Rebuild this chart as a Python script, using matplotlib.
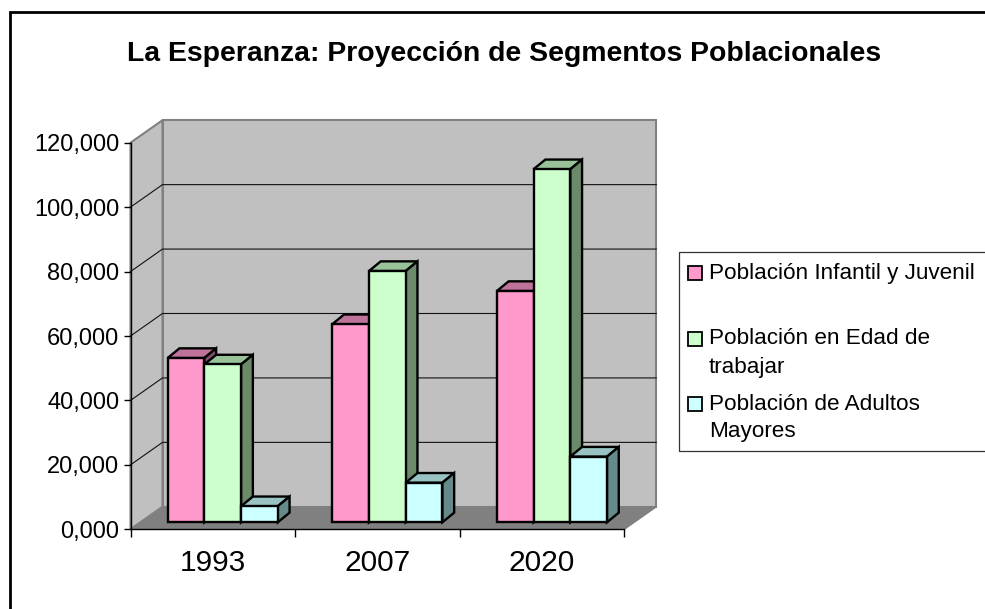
import matplotlib.pyplot as plt
from matplotlib.patches import Rectangle, Polygon

plt.rcParams['font.family'] = ['Liberation Sans', 'DejaVu Sans']

# values
years = ['1993', '2007', '2020']
infantil = [51000, 61500, 71800]
trabajar = [49000, 78000, 109600]
adultos = [5000, 12300, 20400]
series_names = [
    ['Población Infantil y Juvenil'],
    ['Población en Edad de', 'trabajar'],
    ['Población de Adultos', 'Mayores'],
]
y_ticks = [0, 20000, 40000, 60000, 80000, 100000, 120000]
y_labels = ['0,000', '20,000', '40,000', '60,000', '80,000', '100,000', '120,000']

front = ['#FF99CC', '#CCFFCC', '#CCFFFF']
top = ['#C0739A', '#99C299', '#99C2C2']
side = ['#805066', '#6A8A6A', '#668A8A']

# depth of the fake 3D box, in data units (32 px right, 22.5 px up)
DEPTH_X = 32 / 164.6
DEPTH_Y = 22.5 * 120000 / 386.5
BAR_W = 0.223
BAR_D0 = 0.31
BAR_D1 = 0.74
# bars slant a bit steeper than the box, pull their back edge in
BAR_BACK = 0.012


def proj(x, v, d):
    return x + d * DEPTH_X, v + d * DEPTH_Y


def face(ax, pts, color, ec='none', lw=0, z=1):
    ax.add_patch(Polygon([proj(*p) for p in pts], closed=True, fc=color, ec=ec,
                         lw=lw, zorder=z, clip_on=False, joinstyle='miter'))


fig = plt.figure(figsize=(9.85, 6.09), dpi=100)
ax = fig.add_axes([130.5 / 985, 1 - 529.3 / 609, 493.8 / 985, 386.6 / 609])
ax.set_xlim(0, 3)
ax.set_ylim(0, 120000)
ax.patch.set_visible(False)

# walls and floor
face(ax, [(0, 0, 1), (3, 0, 1), (3, 120000, 1), (0, 120000, 1)], '#C0C0C0', '#808080', 1.5)
face(ax, [(0, 0, 0), (0, 0, 1), (0, 120000, 1), (0, 120000, 0)], '#C0C0C0', '#808080', 1.5)
face(ax, [(0, 0, 0), (3, 0, 0), (3, 0, 1), (0, 0, 1)], '#808080', '#808080', 1)

for v in y_ticks[1:-1]:
    xs, ys = zip(proj(0, v, 0), proj(0, v, 1), proj(3, v, 1))
    ax.plot(xs, ys, color='#111111', lw=0.8, zorder=2, clip_on=False)

# bars, left to right so each one covers the side of the one before
z = 3
for i in range(len(years)):
    left = i + 0.5 - 1.5 * BAR_W
    for j, vals in enumerate([infantil, trabajar, adultos]):
        x0 = left + j * BAR_W
        x1 = x0 + BAR_W
        v = vals[i]
        face(ax, [(x0, v, BAR_D0), (x1, v, BAR_D0),
                  (x1 - BAR_BACK, v, BAR_D1), (x0 - BAR_BACK, v, BAR_D1)],
             top[j], 'black', 1.7, z)
        face(ax, [(x1, 0, BAR_D0), (x1 - BAR_BACK, 0, BAR_D1),
                  (x1 - BAR_BACK, v, BAR_D1), (x1, v, BAR_D0)],
             side[j], 'black', 1.7, z)
        z += 1
        face(ax, [(x0, 0, BAR_D0), (x1, 0, BAR_D0), (x1, v, BAR_D0), (x0, v, BAR_D0)],
             front[j], 'black', 1.7, z)
        z += 1

ax.spines['top'].set_visible(False)
ax.spines['right'].set_visible(False)
ax.spines['left'].set_linewidth(1)
ax.spines['bottom'].set_linewidth(1)
ax.set_yticks(y_ticks)
ax.set_yticklabels(y_labels, fontsize=17)
ax.set_xticks([0, 1, 2, 3])
ax.set_xticklabels([])
ax.set_xticks([0.5, 1.5, 2.5], minor=True)
ax.set_xticklabels(years, minor=True, fontsize=21.5)
ax.tick_params(axis='y', direction='out', length=5, width=1, pad=3)
ax.tick_params(axis='x', which='major', direction='out', length=6, width=1)
ax.tick_params(axis='x', which='minor', length=0, pad=14)

# overlay in picture pixels for the frame, title and legend
ov = fig.add_axes([0, 0, 1, 1], zorder=10)
ov.set_xlim(0, 985)
ov.set_ylim(609, 0)
ov.axis('off')

ov.plot([9.5, 9.5, 985], [609, 11.5, 11.5], color='black', lw=2, solid_joinstyle='miter')
ov.text(504, 54, 'La Esperanza: Proyección de Segmentos Poblacionales', fontsize=20.4,
        fontweight='bold', ha='center', va='center')

ov.add_patch(Rectangle((678.5, 252), 330, 199, fc='white', ec='#333333', lw=0.9))
legend_rows = [[273], [339, 368], [404, 432]]
for color, lines, rows in zip(front, series_names, legend_rows):
    ov.add_patch(Rectangle((687.5, rows[0] - 7), 14, 14, fc=color, ec='black', lw=1.3))
    for line, y in zip(lines, rows):
        ov.text(709, y, line, fontsize=16.2, ha='left', va='center')

fig.savefig('out.png', dpi=100)
